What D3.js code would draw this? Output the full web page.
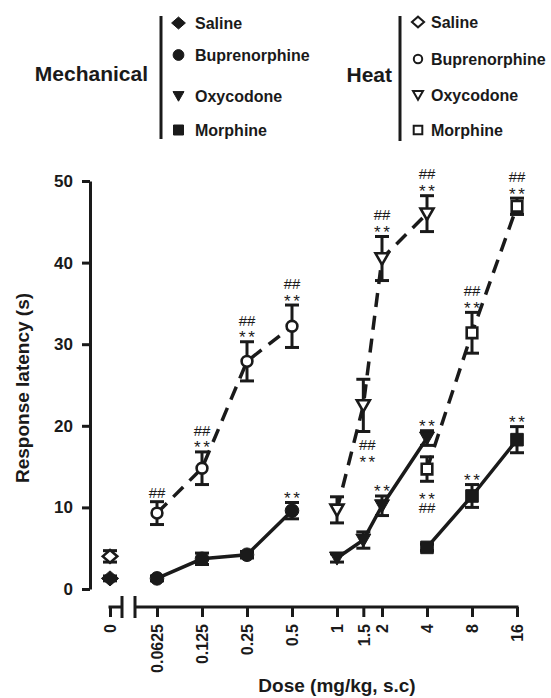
<!DOCTYPE html>
<html><head><meta charset="utf-8">
<script src="https://cdn.jsdelivr.net/npm/d3@7"></script>
<style>
html,body{margin:0;padding:0;background:#fff;}
svg{display:block;font-family:"Liberation Sans",Arial,sans-serif;}
</style></head>
<body>
<svg id="chart" width="551" height="698"></svg>
<script>
// ---------- data ----------
const doseTicks = [0.0625, 0.125, 0.25, 0.5, 1, 1.5, 2, 4, 8, 16];
const doseTickLabels = ["0.0625", "0.125", "0.25", "0.5", "1", "1.5", "2", "4", "8", "16"];
const yTicks = [0, 10, 20, 30, 40, 50];

const salineDoses = [0];
const mechSalineMean = [1.3], mechSalineSem = [0.3];
const heatSalineMean = [4.0], heatSalineSem = [0.7];

const bupDoses = [0.0625, 0.125, 0.25, 0.5];
const mechBupMean = [1.3, 3.7, 4.2, 9.6], mechBupSem = [0.3, 0.7, 0.4, 1.0];
const heatBupMean = [9.3, 14.8, 27.9, 32.2], heatBupSem = [1.4, 2.0, 2.4, 2.6];

const oxyDoses = [1, 1.5, 2, 4];
const mechOxyMean = [3.8, 6.0, 10.2, 18.5], mechOxySem = [0.5, 1.0, 1.2, 0.9];
const heatOxyMean = [9.7, 22.5, 40.5, 46.0], heatOxySem = [1.6, 3.2, 2.7, 2.2];

const morDoses = [4, 8, 16];
const mechMorMean = [5.1, 11.4, 18.3], mechMorSem = [0.4, 1.4, 1.6];
const heatMorMean = [14.7, 31.4, 46.9], heatMorSem = [1.5, 2.5, 1.0];

const legendDrugs = ["Saline", "Buprenorphine", "Oxycodone", "Morphine"];
const legendShapes = ["diamond", "circle", "triangle", "square"];

const annotations = [
  {key: "heatBup", i: 0, lines: ["##"], side: "above"},
  {key: "heatBup", i: 1, lines: ["##", "**"], side: "above"},
  {key: "heatBup", i: 2, lines: ["##", "**"], side: "above"},
  {key: "heatBup", i: 3, lines: ["##", "**"], side: "above"},
  {key: "mechBup", i: 3, lines: ["**"], side: "above"},
  {key: "heatOxy", i: 1, lines: ["##", "**"], side: "below", dx: 4},
  {key: "heatOxy", i: 2, lines: ["##", "**"], side: "above"},
  {key: "heatOxy", i: 3, lines: ["##", "**"], side: "above"},
  {key: "mechOxy", i: 2, lines: ["**"], side: "above"},
  {key: "mechOxy", i: 3, lines: ["**"], side: "above"},
  {key: "heatMor", i: 0, lines: ["**", "##"], side: "below"},
  {key: "heatMor", i: 1, lines: ["##", "**"], side: "above"},
  {key: "heatMor", i: 2, lines: ["##", "**"], side: "above"},
  {key: "mechMor", i: 1, lines: ["**"], side: "above"},
  {key: "mechMor", i: 2, lines: ["**"], side: "above"}
];

const series = [
  {key: "mechSal", doses: salineDoses, mean: mechSalineMean, sem: mechSalineSem, shape: "diamond", filled: true, line: null},
  {key: "heatSal", doses: salineDoses, mean: heatSalineMean, sem: heatSalineSem, shape: "diamond", filled: false, line: null},
  {key: "mechBup", doses: bupDoses, mean: mechBupMean, sem: mechBupSem, shape: "circle", filled: true, line: "solid"},
  {key: "heatBup", doses: bupDoses, mean: heatBupMean, sem: heatBupSem, shape: "circle", filled: false, line: "dash"},
  {key: "mechOxy", doses: oxyDoses, mean: mechOxyMean, sem: mechOxySem, shape: "triangle", filled: true, line: "solid"},
  {key: "heatOxy", doses: oxyDoses, mean: heatOxyMean, sem: heatOxySem, shape: "triangle", filled: false, line: "dash"},
  {key: "mechMor", doses: morDoses, mean: mechMorMean, sem: mechMorSem, shape: "square", filled: true, line: "solid"},
  {key: "heatMor", doses: morDoses, mean: heatMorMean, sem: heatMorSem, shape: "square", filled: false, line: "dash"}
];

// ---------- shapes ----------
const shapeTypes = {
  diamond: {draw(c, r) { c.moveTo(-r * 1.15, 0); c.lineTo(0, -r); c.lineTo(r * 1.15, 0); c.lineTo(0, r); c.closePath(); }},
  circle: {draw(c, r) { c.moveTo(r, 0); c.arc(0, 0, r, 0, 2 * Math.PI); c.closePath(); }},
  triangle: {draw(c, r) { c.moveTo(-r, -r * 0.8); c.lineTo(r, -r * 0.8); c.lineTo(0, r * 0.95); c.closePath(); }},
  square: {draw(c, r) { c.rect(-r, -r, 2 * r, 2 * r); }}
};
const filledSize = {diamond: 7.5, circle: 6.8, triangle: 7.5, square: 6.3};
const openSize = {diamond: 6.3, circle: 5.4, triangle: 6.5, square: 5.3};
const legFilled = {diamond: 6, circle: 5.4, triangle: 5.5, square: 5};
const legOpen = {diamond: 5.3, circle: 4.2, triangle: 5, square: 4.3};
const sym = (shape, r) => d3.symbol().type(shapeTypes[shape]).size(r)();

// ---------- scales ----------
const svg = d3.select("#chart");
const x = d3.scaleLog().base(2).domain([0.0625, 16]).range([157, 517]);
const x0 = d3.scalePoint().domain([0]).range([110, 110]);
const xp = d => d === 0 ? x0(0) : x(d);
const y = d3.scaleLinear().domain([0, 50]).range([589, 181]);
const axisY = 607;

const black = "#1a1a1a";

// ---------- y axis ----------
const gy = svg.append("g").attr("transform", `translate(90,0)`)
  .call(d3.axisLeft(y).tickValues(yTicks).tickSize(8).tickSizeOuter(0).tickPadding(9));
gy.select(".domain").attr("stroke", black).attr("stroke-width", 3);
gy.selectAll(".tick line").attr("stroke", black).attr("stroke-width", 3);
gy.selectAll(".tick text").attr("fill", black).style("font-size", "17px").style("font-weight", "bold")
  .style("font-family", '"Liberation Sans",Arial,sans-serif');

// ---------- x axis ----------
const gx = svg.append("g").attr("transform", `translate(0,${axisY})`)
  .call(d3.axisBottom(x).tickValues(doseTicks).tickSize(10)
    .tickFormat((d, i) => doseTickLabels[i]));
const gx0 = svg.append("g").attr("transform", `translate(0,${axisY})`)
  .call(d3.axisBottom(x0).tickSize(10).tickFormat(d => String(d)));
[gx, gx0].forEach(g => {
  g.select(".domain").remove();
  g.selectAll(".tick line").attr("stroke", black).attr("stroke-width", 3);
  g.selectAll(".tick text").attr("fill", black)
    .attr("transform", "translate(0,17) rotate(-90)")
    .attr("text-anchor", "end").attr("x", 0).attr("y", 0).attr("dy", "0.36em")
    .style("font-size", "16px").style("font-weight", "bold")
    .style("font-family", '"Liberation Sans",Arial,sans-serif');
});
const brk1 = x0(0) + 12, brk2 = x(0.0625) - 22;
const axisPath = d3.path();
axisPath.moveTo(x0(0) - 1.5, 0); axisPath.lineTo(brk1, 0);
axisPath.moveTo(brk1, -11); axisPath.lineTo(brk1, 11);
axisPath.moveTo(brk2, -11); axisPath.lineTo(brk2, 11);
axisPath.moveTo(brk2, 0); axisPath.lineTo(x(16) + 1.5, 0);
svg.append("path").attr("transform", `translate(0,${axisY})`)
  .attr("d", axisPath.toString()).attr("fill", "none").attr("stroke", black).attr("stroke-width", 3);

// ---------- axis titles ----------
svg.append("text").attr("x", 337).attr("y", 692).attr("text-anchor", "middle")
  .style("font-size", "19px").style("font-weight", "bold").attr("fill", black)
  .text("Dose (mg/kg, s.c)");
svg.append("text").attr("transform", "translate(29,388) rotate(-90)").attr("text-anchor", "middle")
  .style("font-size", "19px").style("font-weight", "bold").attr("fill", black)
  .text("Response latency (s)");

// ---------- lines ----------
const lineGen = d3.line().x(d => xp(d.dose)).y(d => y(d.mean));
const pts = s => s.doses.map((d, i) => ({dose: d, mean: s.mean[i], sem: s.sem[i]}));
series.filter(s => s.line).forEach(s => {
  svg.append("path").attr("d", lineGen(pts(s))).attr("fill", "none")
    .attr("stroke", black).attr("stroke-width", 3.5)
    .attr("stroke-dasharray", s.line === "dash" ? "14,9" : null);
});

// ---------- error bars ----------
series.forEach(s => {
  const g = svg.append("g");
  pts(s).forEach(p => {
    const cx = xp(p.dose), t = y(p.mean + p.sem), b = y(p.mean - p.sem);
    g.append("line").attr("x1", cx).attr("x2", cx).attr("y1", t).attr("y2", b)
      .attr("stroke", black).attr("stroke-width", 3);
    [t, b].forEach(yy => g.append("line").attr("x1", cx - 7).attr("x2", cx + 7).attr("y1", yy).attr("y2", yy)
      .attr("stroke", black).attr("stroke-width", 3));
  });
});

// ---------- markers ----------
series.forEach(s => {
  svg.append("g").selectAll("path").data(pts(s)).join("path")
    .attr("transform", d => `translate(${xp(d.dose)},${y(d.mean)})`)
    .attr("d", sym(s.shape, s.filled ? filledSize[s.shape] : openSize[s.shape]))
    .attr("fill", s.filled ? black : "#fff")
    .attr("stroke", black).attr("stroke-width", s.filled ? 1 : 2.6);
});

// ---------- annotations (one multi-line text per point) ----------
const byKey = Object.fromEntries(series.map(s => [s.key, s]));
annotations.forEach(a => {
  const s = byKey[a.key];
  const cx = xp(s.doses[a.i]) + (a.dx || 0);
  const top = y(s.mean[a.i] + s.sem[a.i]) - 1.5;
  const bot = y(s.mean[a.i] - s.sem[a.i]) + 1.5;
  const n = a.lines.length;
  const t = svg.append("text").attr("text-anchor", "middle").attr("fill", black);
  a.lines.forEach((txt, j) => {
    const k = a.side === "above" ? (n - 1 - j) : j;
    const center = a.side === "above" ? top - 7 - 13 * k : bot + 12 + 13 * k;
    const star = txt === "**";
    t.append("tspan").attr("x", cx + (star ? 1.2 : 0))
      .attr("y", center + (star ? 10 : 5.3))
      .style("font-size", star ? "17px" : "15px")
      .style("letter-spacing", star ? "2.5px" : "0px")
      .text(txt);
  });
});

// ---------- legend ----------
const legendGroups = [
  {title: "Mechanical", titleX: 148, barX: 161, symX: 178.5, textX: 195, filled: true, rows: [23, 55, 96, 130], barY: [16, 139], titleY: 73},
  {title: "Heat", titleX: 392, barX: 400, symX: 418, textX: 431, filled: false, rows: [22, 59, 95, 130], barY: [16, 141], titleY: 74}
];
legendGroups.forEach(L => {
  svg.append("text").attr("x", L.titleX).attr("y", L.titleY + 7.5).attr("text-anchor", "end")
    .style("font-size", "21px").style("font-weight", "bold").attr("fill", black).text(L.title);
  svg.append("line").attr("x1", L.barX).attr("x2", L.barX).attr("y1", L.barY[0]).attr("y2", L.barY[1])
    .attr("stroke", black).attr("stroke-width", 3);
  legendDrugs.forEach((name, i) => {
    const sh = legendShapes[i];
    svg.append("path").attr("transform", `translate(${L.symX},${L.rows[i]})`)
      .attr("d", sym(sh, L.filled ? legFilled[sh] : legOpen[sh]))
      .attr("fill", L.filled ? black : "#fff").attr("stroke", black)
      .attr("stroke-width", L.filled ? 1 : 2);
    svg.append("text").attr("x", L.textX).attr("y", L.rows[i] + 5.8)
      .style("font-size", "16px").style("font-weight", "bold").attr("fill", black).text(name);
  });
});
</script>
</body></html>
